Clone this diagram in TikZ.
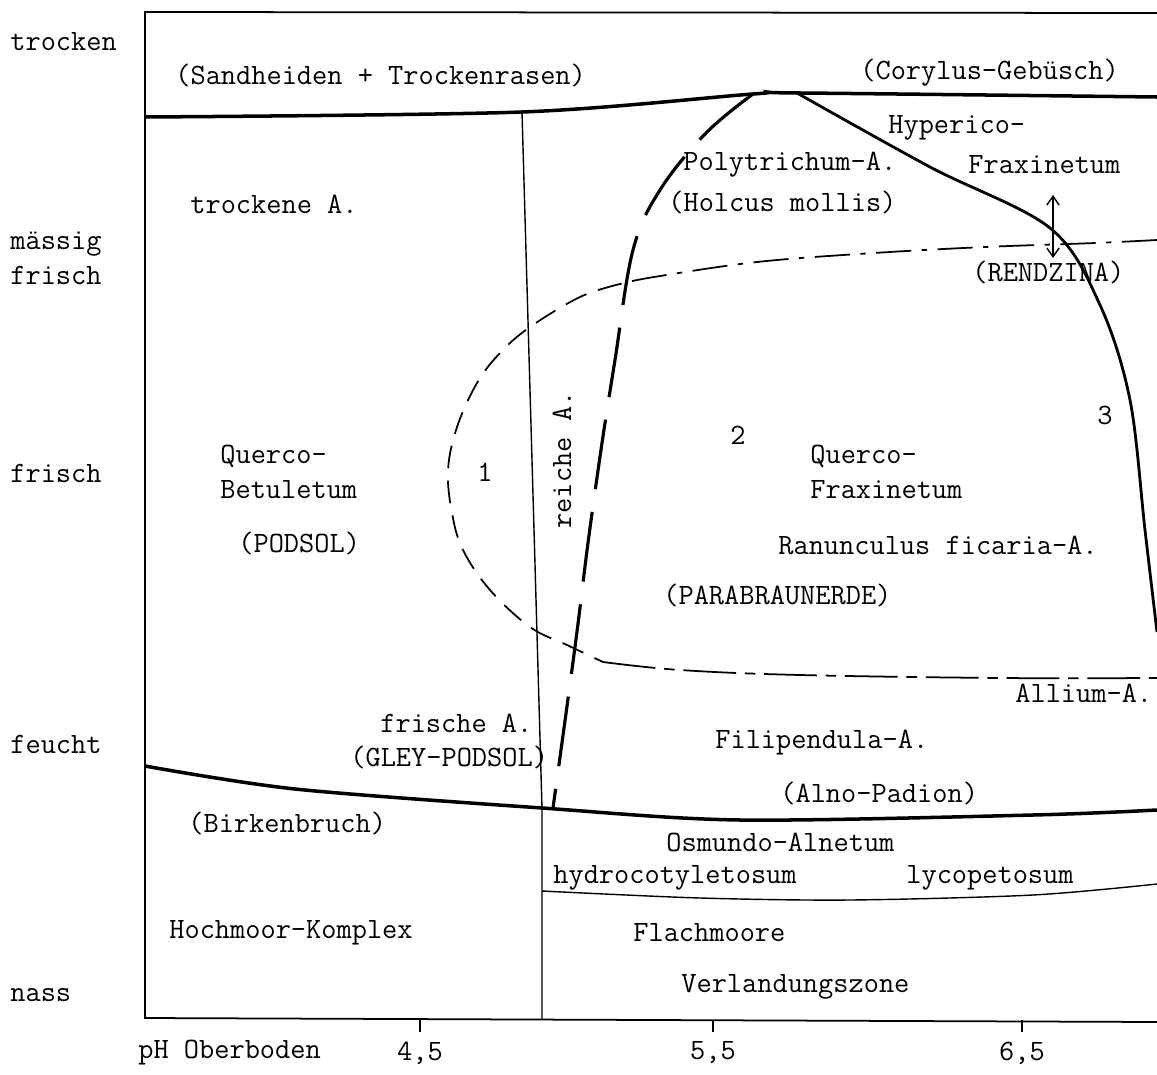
\documentclass[tikz,border=0pt]{standalone}
\usepackage{fontspec}
\usetikzlibrary{arrows.meta}
\begin{document}
\begin{tikzpicture}[x=0.2mm,y=-0.2mm,font=\ttfamily\fontsize{16.8}{20}\selectfont,
      veg style/.style={inner sep=0pt,anchor=west,align=left},
      axis style/.style={inner sep=0pt,anchor=west,align=left},
      frame style/.style={line width=1pt},
      thin style/.style={line width=0.8pt},
      thick style/.style={line width=2pt},
      curve style/.style={line width=1.6pt},
      long dash style/.style={line width=1.8pt,dash pattern=on 40pt off 13pt},
      dash dot style/.style={line width=1pt,dash pattern=on 20pt off 6pt on 3pt off 6pt},
      loop dash style/.style={line width=1pt,dash pattern=on 13pt off 7pt},
      bottom dash style/.style={line width=1pt,dash pattern=on 30pt off 5pt on 6pt off 5pt}
      ]
      \useasboundingbox (0,0) rectangle (1157,1075);

      \draw[frame style] (1157,13) -- (145,12) -- (145,1018) -- (1157,1022);
      \foreach \x in {420,713,1022}
        \draw[frame style] (\x,1020) -- (\x,1032);

      \draw[thick style] plot[smooth,tension=0.5] coordinates {(145,117) (522,112) (753,94) (800,93) (1157,97)};
      \draw[thick style] plot[smooth,tension=0.5] coordinates {(145,766) (295,789) (542,808) (740,820) (1033,815) (1157,810)};
      \draw[thin style] (522,112) -- (542,808) -- (542,1020);
      \draw[thin style] plot[smooth,tension=0.5] coordinates {(542,891) (700,898) (850,900) (1033,895) (1157,884)};

      \draw[curve style] plot[smooth,tension=0.55] coordinates {(797,93) (930,167) (1050,228) (1100,305) (1130,400) (1145,530) (1157,632)};
      \draw[long dash style] plot[smooth,tension=0.6] coordinates {(753,94) (706,133) (660,190) (633,250) (615,360) (602,443) (588,543) (575,647) (553,808)};

      \draw[dash dot style] plot[smooth,tension=0.6] coordinates {(1157,240) (1095,243) (985,247) (874,253) (757,262) (654,277) (620,284)};
      \draw[loop dash style] plot[smooth,tension=0.6] coordinates {(620,284) (580,297) (530,327) (500,353) (477,383) (457,427) (448,470) (452,513) (463,550) (490,590) (530,627) (567,645) (603,662)};
      \draw[bottom dash style] plot[smooth,tension=0.6] coordinates {(603,662) (680,670) (800,675) (1000,678) (1157,678)};

      \coordinate (arrow top) at (1053,195);
      \coordinate (arrow bottom) at (1053,258);
      \draw[{Straight Barb[length=5pt,width=7pt]}-{Straight Barb[length=5pt,width=7pt]},line width=0.8pt] (arrow bottom) -- (arrow top);

      \node[axis style] (trocken) at (10,42) {trocken};
      \node[axis style] (maessig) at (10,258) {mässig\\frisch};
      \node[axis style] (frisch) at (10,473) {frisch};
      \node[axis style] (feucht) at (10,744) {feucht};
      \node[axis style] (nass) at (10,995) {nass};
      \node[axis style] (ph) at (138,1053) {pH Oberboden};
      \node (ph45) at (420,1053) {4,5};
      \node (ph55) at (713,1053) {5,5};
      \node (ph65) at (1022,1053) {6,5};

      \node[veg style] (sandheiden) at (175,75) {(Sandheiden + Trockenrasen)};
      \node[veg style] (corylus) at (860,73) {(Corylus-Gebüsch)};
      \node[veg style] (trockene) at (190,204) {trockene A.};
      \node[veg style] (polytrichum) at (683,165) {Polytrichum-A.};
      \node[veg style] (holcus) at (668,202) {(Holcus mollis)};
      \node[veg style] (hyperico) at (888,128) {Hyperico-};
      \node[veg style] (hypfrax) at (968,165) {Fraxinetum};
      \node[veg style] (rendzina) at (972,272) {(RENDZINA)};
      \node[veg style] (betuletum) at (220,472) {Querco-\\Betuletum};
      \node[veg style] (podsol) at (238,543) {(PODSOL)};
      \node[rotate=90,inner sep=0pt] (reiche) at (562,460) {reiche A.};
      \node[inner sep=0pt] (one) at (485,472) {1};
      \node[inner sep=0pt] (two) at (738,435) {2};
      \node[inner sep=0pt] (three) at (1105,415) {3};
      \node[veg style] (querfrax) at (810,472) {Querco-\\Fraxinetum};
      \node[veg style] (ranunculus) at (778,545) {Ranunculus ficaria-A.};
      \node[veg style] (parabraun) at (663,595) {(PARABRAUNERDE)};
      \node[veg style] (allium) at (1015,693) {Allium-A.};
      \node[veg style] (frische) at (380,723) {frische A.};
      \node[veg style] (gley) at (350,757) {(GLEY-PODSOL)};
      \node[veg style] (filipendula) at (715,743) {Filipendula-A.};
      \node[veg style] (alno) at (780,793) {(Alno-Padion)};
      \node[veg style] (birkenbruch) at (188,823) {(Birkenbruch)};
      \node[veg style] (osmundo) at (666,842) {Osmundo-Alnetum};
      \node[veg style] (hydro) at (553,878) {hydrocotyletosum};
      \node[veg style] (lyco) at (906,878) {lycopetosum};
      \node[veg style] (hochmoor) at (169,933) {Hochmoor-Komplex};
      \node[veg style] (flachmoore) at (633,933) {Flachmoore};
      \node[veg style] (verlandung) at (681,987) {Verlandungszone};
    \end{tikzpicture}
\end{document}
